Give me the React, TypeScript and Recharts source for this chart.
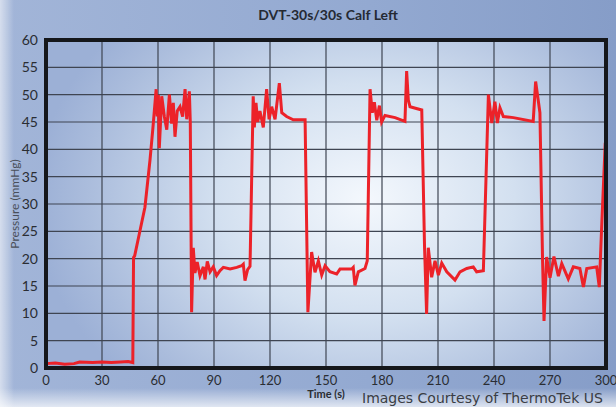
import { LineChart, Line, XAxis, YAxis, CartesianGrid } from 'recharts'

// time (s) and pressure (mmHg)
const times = [
  0, 5, 10, 15, 18, 25, 30, 35, 40, 44, 46.5, 46.9, 47.5, 50.4, 53, 55.7, 57.3, 59,
  59.6, 60.2, 60.7, 62, 63.4, 64.7, 66.1, 67.3, 68.2, 69.1, 70.3, 71.8, 73.2, 74.5, 75.4, 76.8, 77.3,
  78, 78.9, 79.8, 81, 82.5, 84.3, 85.2, 86.4, 87.9, 89.6, 91.4, 93.2, 95, 98.6, 102.2, 104.8, 105.7,
  106.6, 108, 109.3,
  111, 111.6, 112.5, 113.4, 114.6, 116.4, 118.2, 119.5, 120.9, 122.7, 125, 126.3, 128.9, 132.5, 138.8,
  140.3, 142.3, 144.1, 145.9, 147.7, 149.5, 152.1, 155.7, 157.5, 163.8, 164.6, 165.5, 167.3, 170.9,
  172.1,
  173.6, 174.8, 175.9, 177.2, 178.6, 179.8, 181.6, 187, 192.3, 193.2, 194.1, 195, 201.3,
  202.8, 203.9, 204.8, 206.6, 208.4, 210.2, 212, 214.7, 219.1, 221.8, 225.4, 228.9, 230.7, 234.3,
  237, 238.8, 240.5, 241.8, 243.2, 245, 250.4, 261, 262.3, 263.8, 264.6,
  266, 266.8, 268.2, 270, 272.1, 274.5, 276.3, 279.8, 282.5, 286, 287.9, 289.7, 295, 296.4, 297.7, 299.6,
]
const pressure = [
  0.8, 0.9, 0.7, 0.8, 1.1, 1.0, 1.1, 1.0, 1.1, 1.2, 1.0, 20.2, 20.5, 25.2, 29.4, 38, 44, 51,
  46, 50, 40.2, 49.7, 46, 43.6, 50, 44.7, 48.5, 42.3, 47, 47.8, 46, 51, 45.5, 50.6, 45,
  10.2, 22, 17.4, 19.4, 16.9, 18.5, 16.2, 19.5, 17.6, 18.5, 16.9, 17.8, 18.4, 18.1, 18.4, 18.7, 19,
  16, 18, 18.6,
  49.7, 44, 48.5, 45, 47, 44, 51, 45.5, 47.8, 45.5, 52.1, 46.7, 46, 45.4, 45.4,
  10.2, 21.2, 17.5, 19.6, 17, 18.7, 17.6, 17.2, 18.1, 18.1, 18.4, 15.1, 17.6, 18.2,
  19.6,
  51, 46.7, 48.6, 45.3, 48, 45, 46.2, 45.8, 45.1, 54.3, 49, 47.8, 47.2,
  22, 9.9, 22, 16.6, 19.6, 17, 19.2, 17.6, 16.1, 17.6, 18.2, 18.5, 17.6, 17.8,
  50, 44.8, 48.7, 44.8, 47.6, 46, 45.8, 45.1, 52.4, 48.7, 46.7,
  20, 8.6, 20.3, 16.5, 20.4, 16.8, 19.1, 16.3, 18.5, 18.2, 14.8, 18.2, 18.5, 14.8, 26, 41.2,
]
const xTicks = [0, 30, 60, 90, 120, 150, 180, 210, 240, 270, 300]
const yTicks = [0, 5, 10, 15, 20, 25, 30, 35, 40, 45, 50, 55, 60]

const data = times.map((t, i) => ({ t, p: pressure[i] }))

const font = 'Lato, "Open Sans", sans-serif'

export default function App() {
  return (
    <div
      style={{
        position: 'absolute',
        left: 0,
        top: 0,
        width: 616,
        height: 407,
        overflow: 'hidden',
        background:
          'linear-gradient(to right, rgba(255,255,255,0.55) 0px, rgba(255,255,255,0) 14px), linear-gradient(to bottom, rgba(255,255,255,0) 388px, rgba(255,255,255,0.7) 407px), linear-gradient(to right, #a2b5d8, #93a9d1 60%, #869dc8)',
        fontFamily: font,
      }}
    >
      <div
        style={{
          position: 'absolute',
          left: 46,
          top: 40,
          width: 560,
          height: 328,
          background:
            'radial-gradient(ellipse 330px 260px at 320px 160px, #f4f8fd 0%, #d3e0f0 45%, #aabcdc 85%, #9cb0d6 100%)',
        }}
      />
      <div
        style={{
          position: 'absolute',
          left: 0,
          width: 656,
          top: 6,
          textAlign: 'center',
          fontWeight: 700,
          fontSize: 14,
          color: '#252a33',
        }}
      >
        DVT-30s/30s Calf Left
      </div>
      <div style={{ position: 'absolute', top: 0, left: 0 }}>
        <LineChart width={616} height={407} data={data} margin={{ top: 40, right: 10, bottom: 0, left: 0 }}>
          <CartesianGrid stroke="#3f4552" strokeWidth={1.2} />
          <XAxis
            dataKey="t"
            type="number"
            domain={[0, 300]}
            ticks={xTicks}
            height={39}
            tickLine={false}
            axisLine={false}
            tick={{ fontSize: 13, fill: '#2a2d33', fontFamily: font }}
            interval={0}
            label={{
              value: 'Time (s)',
              position: 'center',
              dy: 7,
              fontSize: 11,
              fontWeight: 700,
              fill: '#2a2d33',
              fontFamily: font,
            }}
          />
          <YAxis
            type="number"
            domain={[0, 60]}
            ticks={yTicks}
            width={46}
            tickLine={false}
            axisLine={false}
            interval={0}
            tick={{ fontSize: 14, fill: '#2a2d33', fontFamily: font }}
            label={{
              value: 'Pressure (mmHg)',
              angle: -90,
              position: 'center',
              dx: -8,
              fontSize: 12,
              fill: '#4a4f58',
              fontFamily: font,
            }}
          />
          <Line
            type="linear"
            dataKey="p"
            stroke="#ec2229"
            strokeWidth={3}
            dot={false}
            isAnimationActive={false}
          />
        </LineChart>
      </div>
      <div
        style={{
          position: 'absolute',
          left: 44,
          top: 38,
          width: 556,
          height: 324,
          border: '4px solid #15171b',
          pointerEvents: 'none',
        }}
      />
      <div
        style={{
          position: 'absolute',
          left: 362,
          top: 390,
          whiteSpace: 'nowrap',
          fontFamily: '"DejaVu Sans", sans-serif',
          fontSize: 14,
          color: '#3a3d44',
        }}
      >
        Images Courtesy of ThermoTek US
      </div>
    </div>
  )
}
